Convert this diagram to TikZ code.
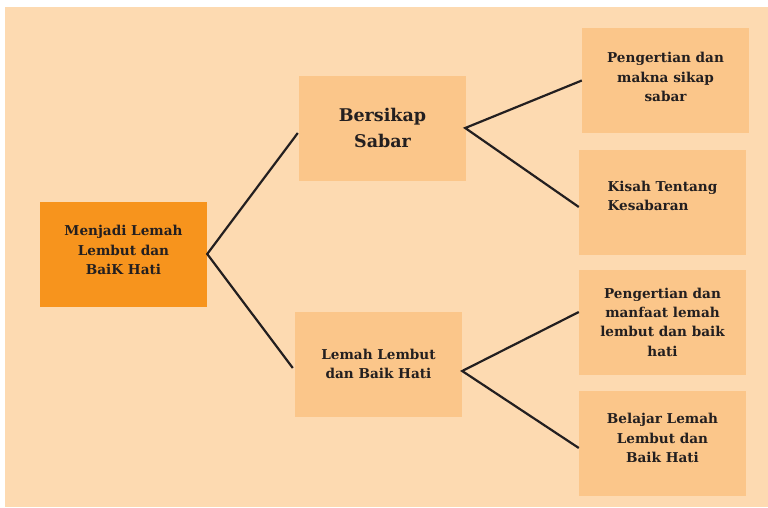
\documentclass[tikz,border=0pt]{standalone}
\usepackage{fontspec}
\setmainfont{DejaVu Serif}
\usepackage{xcolor}
\usetikzlibrary{positioning,calc}
\definecolor{mapbg}{RGB}{253,218,177}
\definecolor{mapbox}{RGB}{251,198,138}
\definecolor{maproot}{RGB}{247,148,29}
\definecolor{maptext}{RGB}{35,31,32}

\begin{document}
\begin{tikzpicture}[x=1pt, y=-1pt,
	topicbox/.style={fill=mapbox, minimum width=167pt, minimum height=105pt, inner sep=0pt,
		text=maptext, font=\fontsize{13.6}{19.3}\selectfont\bfseries, align=center},
	link/.style={draw=maptext, line width=2.2pt}]
				% Draw page and background panel
				\useasboundingbox (0,0) rectangle (768,507);
				\fill[white] (0,0) rectangle (768,507);
				\fill[mapbg] (5,7) rectangle (768,507);
				
				% Draw root topic
				\node[topicbox, fill=maproot] (root) at (123.5,254) {Menjadi Lemah\\Lembut dan\\BaiK Hati\\[-11pt]};
				
				% Draw middle topics
				\node[topicbox, font=\fontsize{17.5}{26}\selectfont\bfseries] (sabar) at (382.5,128) {Bersikap\\Sabar};
				\node[topicbox] (lembut) at (378.5,364) {Lemah Lembut\\dan Baik Hati};
				
				% Draw leaf topics
				\node[topicbox] (makna) at (665.5,80.5) {Pengertian dan\\makna sikap\\sabar\\[-12pt]};
				\node[topicbox, align=left] (kisah) at (662.5,202) {Kisah Tentang\\Kesabaran\\[-7pt]};
				\node[topicbox] (manfaat) at (662.5,322) {Pengertian dan\\manfaat lemah\\lembut dan baik\\hati};
				\node[topicbox] (belajar) at (662.5,443) {Belajar Lemah\\Lembut dan\\Baik Hati\\[-9pt]};
				
				% Draw connections
				\draw[link] ([xshift=-1pt,yshift=-5pt]sabar.west) -- (root.east) -- ([xshift=-2pt,yshift=-4pt]lembut.west);
				\draw[link] (makna.west) -- ([xshift=-1pt]sabar.east) -- ([yshift=-5pt]kisah.west);
				\draw[link] ([yshift=10pt]manfaat.west) -- ([yshift=-7pt]lembut.east) -- ([yshift=-5pt]belajar.west);
			\end{tikzpicture}
\end{document}
